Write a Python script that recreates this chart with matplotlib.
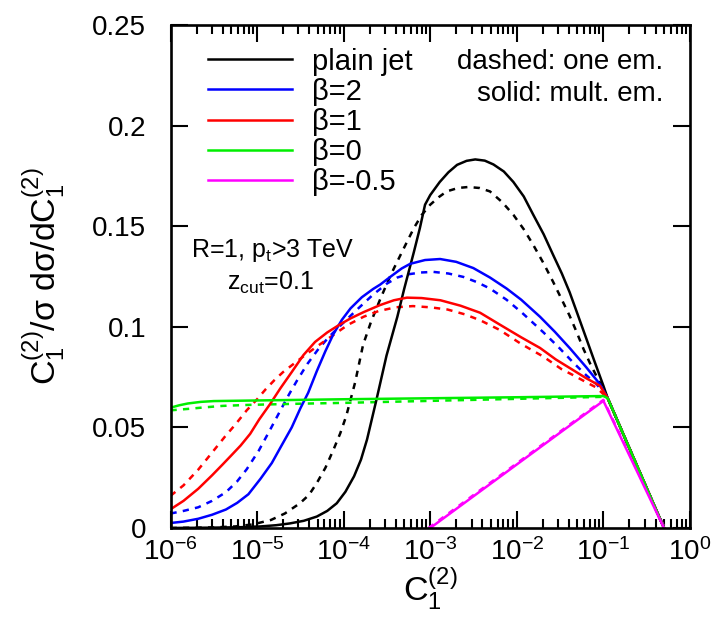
import matplotlib
import matplotlib.pyplot as plt
import numpy as np
from matplotlib.ticker import FuncFormatter, LogLocator, NullLocator

matplotlib.use('agg')

plt.rcParams['font.family'] = ['Liberation Sans', 'DejaVu Sans']
plt.rcParams['mathtext.fontset'] = 'custom'
plt.rcParams['mathtext.rm'] = 'Liberation Sans'
plt.rcParams['mathtext.it'] = 'Liberation Sans:italic'
plt.rcParams['mathtext.bf'] = 'Liberation Sans:bold'

# curves: log10(C1) and C1/sigma dsigma/dC1
# plain jet
jet_mult_lx = [-6.0, -5.5, -5.2, -4.96, -4.78, -4.62, -4.46, -4.31, -4.19, -4.08, -3.98, -3.88, -3.80,
               -3.73, -3.62, -3.505, -3.38, -3.30, -3.19, -3.12, -3.06, -3.0, -2.89, -2.79, -2.69, -2.58,
               -2.48, -2.37, -2.27, -2.15, -2.04, -1.92, -1.81, -1.69, -1.58, -1.48, -1.39, -1.30, -1.2,
               -1.1, -1.0, -0.95, -0.3]
jet_mult_y = [0.0, 0.0002, 0.0004, 0.0008, 0.0014, 0.0023, 0.0036, 0.0057, 0.0085, 0.0123, 0.018, 0.0257, 0.034,
              0.044, 0.064, 0.0857, 0.105, 0.119, 0.137, 0.149, 0.1607, 0.1655, 0.172, 0.1768, 0.1805, 0.1825,
              0.1832, 0.1826, 0.1807, 0.1772, 0.172, 0.1648, 0.1557, 0.146, 0.1357, 0.1265, 0.1172, 0.1065, 0.0945,
              0.0825, 0.0707, 0.0645, 0.0]
jet_one_lx = [-6.0, -5.5, -5.25, -5.05, -4.84, -4.68, -4.505, -4.4, -4.311, -4.21, -4.117, -4.04, -3.97,
              -3.868, -3.776, -3.684, -3.58, -3.48, -3.42, -3.3, -3.19, -3.1, -3.0, -2.9, -2.81, -2.68, -2.56,
              -2.43, -2.31, -2.17, -2.04, -1.92, -1.81, -1.69, -1.58, -1.48, -1.39, -1.31, -1.23, -1.156,
              -1.08, -1.0, -0.95, -0.3]
jet_one_y = [0.0, 0.0003, 0.0008, 0.0018, 0.004, 0.0072, 0.0123, 0.0165, 0.0223, 0.03, 0.039, 0.047, 0.0557,
             0.0723, 0.091, 0.1025, 0.1135, 0.1235, 0.129, 0.1395, 0.149, 0.1555, 0.1607, 0.1645, 0.1673, 0.169,
             0.1695, 0.169, 0.1673, 0.162, 0.1557, 0.1485, 0.1407, 0.1315, 0.1223, 0.1135, 0.1055, 0.0975,
             0.089, 0.082, 0.0755, 0.069, 0.0645, 0.0]

# beta = 2
b2_mult_lx = [-6.0, -5.85, -5.68, -5.52, -5.36, -5.23, -5.1, -4.96, -4.83, -4.72, -4.6, -4.5, -4.41, -4.31,
              -4.21, -4.117, -4.02, -3.92, -3.79, -3.66, -3.578, -3.45, -3.33, -3.232, -3.06, -2.886, -2.7,
              -2.502, -2.31, -2.117, -1.95, -1.732, -1.56, -1.386, -1.2, -1.04, -0.95, -0.3]
b2_mult_y = [0.0025, 0.0032, 0.0046, 0.0066, 0.0092, 0.0125, 0.0168, 0.0245, 0.0323, 0.0408, 0.05, 0.0595,
             0.0672, 0.078, 0.088, 0.0965, 0.1035, 0.1092, 0.1147, 0.1188, 0.121, 0.1252, 0.129, 0.1313, 0.1332,
             0.1337, 0.1323, 0.1292, 0.1245, 0.119, 0.1135, 0.105, 0.0975, 0.0893, 0.08, 0.0715, 0.0645, 0.0]
b2_one_lx = [-6.0, -5.85, -5.68, -5.52, -5.36, -5.23, -5.12, -4.98, -4.86, -4.73, -4.63, -4.54, -4.42, -4.3,
             -4.17, -4.04, -3.92, -3.81, -3.66, -3.5, -3.38, -3.27, -3.11, -2.963, -2.79, -2.617, -2.46,
             -2.309, -2.12, -1.94, -1.694, -1.52, -1.35, -1.2, -1.078, -0.95, -0.3]
b2_one_y = [0.0072, 0.0085, 0.0103, 0.0135, 0.0178, 0.0232, 0.0292, 0.0385, 0.048, 0.0585, 0.0665, 0.0732,
            0.0815, 0.0885, 0.095, 0.1005, 0.1055, 0.11, 0.116, 0.1215, 0.1245, 0.126, 0.127, 0.1273, 0.1265,
            0.1248, 0.1222, 0.119, 0.1135, 0.107, 0.0973, 0.09, 0.0823, 0.076, 0.0715, 0.0645, 0.0]

# beta = 1
b1_mult_lx = [-6.0, -5.85, -5.68, -5.52, -5.4, -5.3, -5.19, -5.08, -4.975, -4.85, -4.73, -4.6, -4.464, -4.33,
              -4.19, -4.05, -3.92, -3.77, -3.58, -3.42, -3.27, -3.1, -2.882, -2.65, -2.424, -2.2, -1.95,
              -1.732, -1.55, -1.35, -1.2, -1.04, -0.95, -0.3]
b1_mult_y = [0.0093, 0.0135, 0.0195, 0.0262, 0.0315, 0.036, 0.041, 0.0468, 0.054, 0.0616, 0.0695, 0.0775,
             0.086, 0.0925, 0.0972, 0.101, 0.1042, 0.1073, 0.1108, 0.1132, 0.1145, 0.1143, 0.1132, 0.1105, 0.107,
             0.1012, 0.0948, 0.0895, 0.0838, 0.0785, 0.0745, 0.0707, 0.0645, 0.0]
b1_one_lx = [-6.0, -5.85, -5.68, -5.52, -5.37, -5.25, -5.12, -5.0, -4.9, -4.8, -4.7, -4.58, -4.45, -4.3,
             -4.15, -3.95, -3.77, -3.6, -3.4, -3.2, -3.0, -2.8, -2.6, -2.42, -2.2, -1.95, -1.694, -1.485,
             -1.35, -1.2, -1.08, -0.95, -0.3]
b1_one_y = [0.016, 0.0212, 0.029, 0.0375, 0.0455, 0.0515, 0.0585, 0.064, 0.069, 0.0735, 0.0775, 0.0815,
            0.0858, 0.0905, 0.095, 0.101, 0.105, 0.1078, 0.1097, 0.1103, 0.1097, 0.1086, 0.1062, 0.1032, 0.0985,
            0.0915, 0.0852, 0.079, 0.076, 0.0725, 0.0698, 0.0645, 0.0]

# beta = 0
b0_mult_lx = [-6.0, -5.9, -5.8, -5.65, -5.5, -5.0, -4.5, -4.0, -3.0, -2.0, -1.0, -0.95, -0.3]
b0_mult_y = [0.0598, 0.061, 0.0619, 0.0627, 0.0631, 0.0634, 0.0637, 0.064, 0.0645, 0.065, 0.0656, 0.0645, 0.0]
b0_one_lx = [-6.0, -5.8, -5.6, -5.4, -5.1, -4.5, -4.0, -3.0, -2.0, -1.0, -0.95, -0.3]
b0_one_y = [0.0585, 0.0592, 0.06, 0.0607, 0.0612, 0.0618, 0.0622, 0.0632, 0.0642, 0.0652, 0.0645, 0.0]

# beta = -0.5
bm_mult_lx = [-3.0, -1.0, -0.3]
bm_mult_y = [0.0, 0.0632, 0.0]
bm_one_lx = [-3.02, -1.0, -0.29]
bm_one_y = [0.0, 0.0637, 0.0]

labels = ['plain jet', 'β=2', 'β=1', 'β=0', 'β=-0.5']
colors = ['black', '#0000ff', '#ff0000', '#00ee00', '#ff00ff']
mult = [(jet_mult_lx, jet_mult_y), (b2_mult_lx, b2_mult_y), (b1_mult_lx, b1_mult_y),
        (b0_mult_lx, b0_mult_y), (bm_mult_lx, bm_mult_y)]
one = [(jet_one_lx, jet_one_y), (b2_one_lx, b2_one_y), (b1_one_lx, b1_one_y),
       (b0_one_lx, b0_one_y), (bm_one_lx, bm_one_y)]

fig = plt.figure(figsize=(7.17, 6.24), dpi=100)
ax = fig.add_axes([0.2378, 0.1538, 0.7245, 0.8061])

lw = 1.8
for (lx, y), c in zip(one, colors):
    ax.plot(10 ** np.array(lx), y, color=c, lw=lw, dashes=(2.5, 2.5))
for (lx, y), c, lab in zip(mult, colors, labels):
    ax.plot(10 ** np.array(lx), y, color=c, lw=lw, label=lab)

ax.set_xscale('log')
ax.set_xlim(1e-6, 1)
ax.set_ylim(0, 0.25)
ax.set_yticks([0, 0.05, 0.1, 0.15, 0.2, 0.25])
ax.yaxis.set_major_formatter(FuncFormatter(lambda v, p: '%g' % v))
ax.yaxis.set_minor_locator(NullLocator())
ax.xaxis.set_major_locator(LogLocator(base=10, numticks=10))
ax.xaxis.set_minor_locator(LogLocator(base=10, subs=np.arange(2, 10), numticks=10))

for s in ax.spines.values():
    s.set_linewidth(1.9)
ax.tick_params(which='both', direction='in', top=True, right=True, width=1.5, labelsize=20)
ax.tick_params(which='major', length=12)
ax.tick_params(which='minor', length=6.5)
ax.tick_params(axis='y', pad=17.5)
ax.tick_params(axis='x', pad=7)

ax.set_xlabel(r'C$_1^{(2)}$', fontsize=24.5, labelpad=0)
ax.set_ylabel(r'C$_1^{(2)}$/σ dσ/dC$_1^{(2)}$', fontsize=24.5, labelpad=18)

ax.legend(loc='upper left', bbox_to_anchor=(0.072, 0.955), frameon=False, fontsize=21,
          handlelength=2.9, handletextpad=0.68, labelspacing=0.07, borderpad=0, borderaxespad=0)

ax.text(0.948, 0.926, 'dashed: one em.', transform=ax.transAxes, ha='right', va='center', fontsize=20)
ax.text(0.948, 0.862, 'solid: mult. em.', transform=ax.transAxes, ha='right', va='center', fontsize=20)
ax.text(0.197, 0.551, r'R=1, p$_\mathrm{t}$>3 TeV', transform=ax.transAxes, ha='center', va='center', fontsize=18)
ax.text(0.1915, 0.487, r'z$_\mathrm{cut}$=0.1', transform=ax.transAxes, ha='center', va='center', fontsize=18)

plt.savefig('out.png', dpi=100)
